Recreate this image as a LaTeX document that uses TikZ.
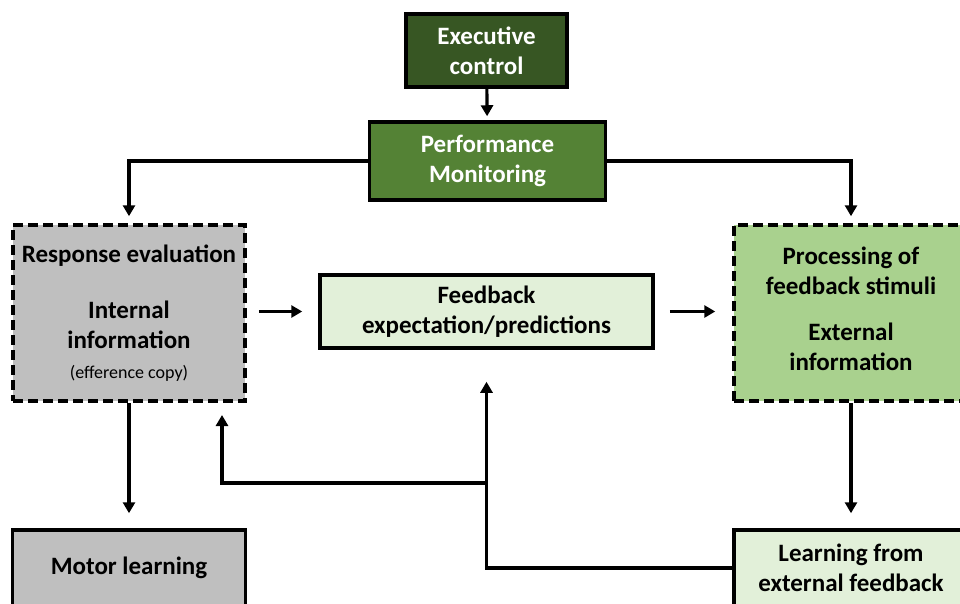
\documentclass[tikz,border=0pt]{standalone}
\usepackage{fontspec}
\setmainfont{Carlito}
\usetikzlibrary{arrows.meta}
\definecolor{execgreen}{HTML}{375623}
\definecolor{perfgreen}{HTML}{548235}
\definecolor{procgreen}{HTML}{A9D18E}
\definecolor{palegreen}{HTML}{E2F0D9}
\definecolor{boxgray}{HTML}{BFBFBF}
\begin{document}
\begin{tikzpicture}[x=1pt,y=-1pt,>={Triangle[length=11pt,width=12pt]},
    box/.style={draw,line width=3.5pt,align=center,inner sep=0pt,
      font=\fontsize{25}{30}\selectfont\bfseries},
    dashbox/.style={box,dash pattern=on 10pt off 5pt},
    link/.style={line width=3.2pt}]
    \useasboundingbox (0,0) rectangle (960,603);
    \clip (0,0) rectangle (960,603);

    \node[box,fill=execgreen,text=white,minimum width=161pt,minimum height=73pt] (exec) at (486.5,50.5) {Executive\\control};
    \node[box,fill=perfgreen,text=white,minimum width=236pt,minimum height=78pt] (perf) at (487.5,161) {Performance\\Monitoring};
    \node[dashbox,fill=boxgray,minimum width=232pt,minimum height=176pt] (resp) at (129,313)
      {Response evaluation\\[26pt]Internal\\information\\{\fontsize{18}{22}\selectfont\mdseries (efference copy)}};
    \node[box,fill=palegreen,minimum width=333pt,minimum height=73pt] (fb) at (486.5,311.5) {Feedback\\expectation/predictions};
    \node[dashbox,fill=procgreen,minimum width=234pt,minimum height=176pt] (proc) at (851,313)
      {Processing of\\feedback stimuli\\[16pt]External\\information\\[-22pt]};
    \node[box,fill=boxgray,minimum width=233pt,minimum height=76pt] (motor) at (129,568) {Motor learning};
    \node[box,fill=palegreen,minimum width=234pt,minimum height=76pt] (learn) at (851,568) {Learning from\\external feedback};

    \draw[link,->,shorten >=4pt] (exec) -- (perf);
    \draw[link,->,shorten >=7pt] (perf.west) -| (resp.north);
    \draw[link,->,shorten >=7pt] (perf.east) -| (proc.north);
    \draw[link,->,shorten <=12pt,shorten >=16pt] (resp.east |- fb.west) -- (fb.west);
    \draw[link,->,shorten <=15pt,shorten >=17pt] (fb.east) -- (proc.west |- fb.east);
    \draw[link,->,shorten >=15pt] (resp.south) -- (motor.north);
    \draw[link,->,shorten >=15pt] (proc.south) -- (learn.north);

    % feedback loop
    \coordinate (fork) at (487,483);
    \coordinate (backtip) at (222,415);
    \draw[link,->,shorten >=32pt] (learn.west) -| (fb.south);
    \draw[link,->] (fork) -| (backtip);
\end{tikzpicture}
\end{document}
